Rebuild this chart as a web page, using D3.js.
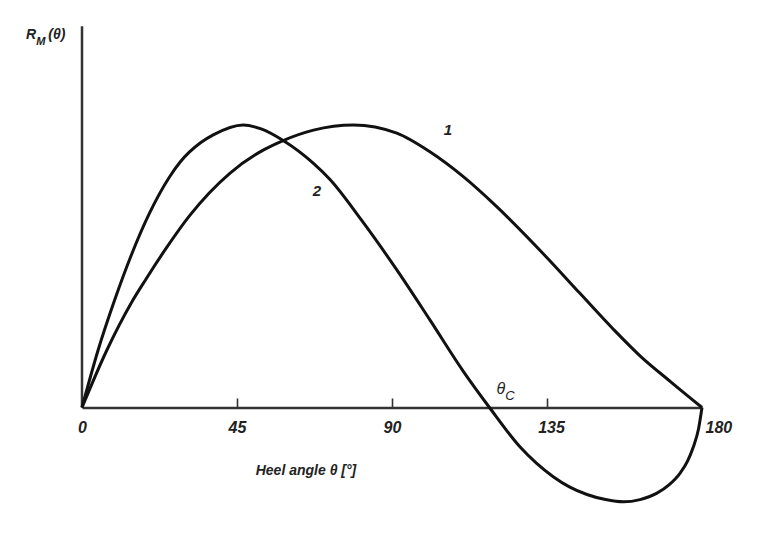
<!DOCTYPE html>
<html>
<head>
<meta charset="utf-8">
<script src="https://cdn.jsdelivr.net/npm/d3@7"></script>
<style>
  html, body { margin: 0; padding: 0; background: #fff; }
  text { font-family: "Liberation Sans", "DejaVu Sans", sans-serif; font-style: italic; fill: #222; }
</style>
</head>
<body>
<svg id="chart" width="772" height="542"></svg>
<script>
// Heel angle (deg) and righting moment (relative) for curve 1
const angle1 = [0, 7.1, 14.3, 18.6, 24.5, 31.3, 43, 52.6, 58.4, 67.2, 78.8, 91.4, 101, 110.7, 120.4, 134.8, 144.5, 154.2, 162, 171, 180];
const rm1    = [0, 0.2, 0.37, 0.455, 0.565, 0.68, 0.83, 0.911, 0.945, 0.982, 1.0, 0.971, 0.905, 0.817, 0.711, 0.533, 0.405, 0.278, 0.183, 0.09, 0];
// curve 2
const angle2 = [0, 4.6, 9.5, 14.3, 19.6, 25.4, 28.5, 34.5, 38.1, 46.8, 52, 58.4, 67.2, 72, 81.1, 91.4, 101, 110.7, 118.3, 127.2, 132, 136.8, 141.5, 146.6, 152, 157.2, 162, 166.8, 170.5, 173.6, 175.8, 177.5, 179, 180];
const rm2    = [0, 0.2, 0.381, 0.539, 0.688, 0.816, 0.869, 0.938, 0.965, 1.0, 0.986, 0.945, 0.864, 0.807, 0.664, 0.487, 0.31, 0.128, 0, -0.14, -0.198, -0.245, -0.281, -0.308, -0.326, -0.334, -0.326, -0.304, -0.273, -0.233, -0.19, -0.139, -0.075, 0];
const xTicks = [0, 45, 90, 135, 180];
const curveLabels = ["1", "2"];
const labelAngles = [105, 67];
const labelValues = [0.965, 0.75];
const criticalLabel = "θ";
const criticalSub = "C";
const criticalAngle = 118.3;

const svg = d3.select("#chart");
const x = d3.scaleLinear().domain([0, 180]).range([82, 702]);
const y = d3.scaleLinear().domain([0, 1]).range([407.5, 125]);

// y axis line
svg.append("line")
  .attr("x1", x(0)).attr("x2", x(0))
  .attr("y1", y(0)).attr("y2", y(1.35))
  .attr("stroke", "#333").attr("stroke-width", 2.5);

// x axis
const xAxis = d3.axisBottom(x).tickValues(xTicks).tickSizeInner(-9).tickSizeOuter(0).tickPadding(14).tickFormat(d3.format("d"));
const gx = svg.append("g").attr("transform", `translate(0,${y(0)})`).call(xAxis);
gx.select(".domain").attr("stroke", "#333").attr("stroke-width", 2.5);
gx.selectAll(".tick line").attr("stroke", "#333").attr("stroke-width", 1.6)
  .attr("display", d => (d === 0 || d === 180) ? "none" : null);
gx.selectAll(".tick text")
  .attr("font-size", 16).attr("font-weight", "bold").attr("font-style", "italic")
  .attr("font-family", "'Liberation Sans', sans-serif").attr("fill", "#222")
  .attr("text-anchor", d => d === 180 ? "start" : "middle")
  .attr("dx", d => d === 180 ? 3 : (d === 135 ? 4 : 0));

// curves
const line = d3.line().x(d => x(d[0])).y(d => y(d[1])).curve(d3.curveMonotoneX);
const series = [d3.zip(angle1, rm1), d3.zip(angle2, rm2)];
svg.selectAll("path.curve").data(series).enter().append("path")
  .attr("class", "curve")
  .attr("d", line)
  .attr("fill", "none").attr("stroke", "#111").attr("stroke-width", 3)
  .attr("stroke-linejoin", "round");

// curve labels
svg.selectAll("text.clabel").data(curveLabels).enter().append("text")
  .attr("class", "clabel")
  .attr("x", (d, i) => x(labelAngles[i]))
  .attr("y", (d, i) => y(labelValues[i]))
  .attr("font-size", 15).attr("font-weight", "bold")
  .text(d => d);

// theta_C label
const tc = svg.append("text").attr("x", x(criticalAngle) + 7).attr("y", y(0) - 14)
  .attr("font-size", 16);
tc.append("tspan").text(criticalLabel);
tc.append("tspan").attr("dy", 6).attr("font-size", 13).text(criticalSub);

// y label R_M(θ)
const yl = svg.append("text").attr("x", 26).attr("y", 39).attr("font-size", 14).attr("font-weight", "bold");
yl.append("tspan").text("R");
yl.append("tspan").attr("dy", 6).attr("font-size", 11).text("M");
yl.append("tspan").attr("dy", -6).attr("dx", 3).text("(θ)");

// x label
svg.append("text").attr("x", 306).attr("y", 475).attr("text-anchor", "middle")
  .attr("font-size", 14).attr("font-weight", "bold")
  .text("Heel angle θ [°]");
</script>
</body>
</html>
